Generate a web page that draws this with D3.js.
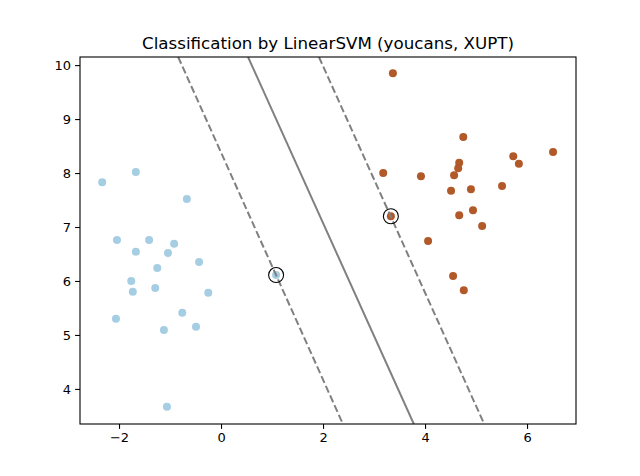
<!DOCTYPE html>
<html><head><meta charset="utf-8">
<script src="https://cdn.jsdelivr.net/npm/d3@7"></script>
<style>body{margin:0;background:#fff}svg{font-family:"DejaVu Sans",sans-serif}</style>
</head><body><svg width="640" height="476"></svg>
<script>
// class 0 (left cluster)
let xs0 = [-2.33,-1.67,-0.67,-2.04,-1.41,-1.67,-0.92,-1.04,-1.25,-1.76,-1.73,-0.43,-1.29,-0.25,-2.06,-0.76,-0.49,-1.12,-1.06,1.08];
let ys0 = [7.83,8.02,7.52,6.76,6.76,6.54,6.69,6.52,6.24,6.0,5.80,6.35,5.87,5.78,5.30,5.41,5.15,5.09,3.67,6.11];
// class 1 (right cluster)
let xs1 = [3.37,4.75,6.51,5.73,4.67,5.84,4.65,3.18,3.92,4.57,4.90,4.51,5.51,3.33,4.94,4.67,5.12,4.06,4.55,4.76];
let ys1 = [9.85,8.67,8.39,8.31,8.19,8.17,8.09,8.0,7.94,7.96,7.70,7.67,7.76,7.20,7.31,7.22,7.02,6.74,6.09,5.83];
// support vectors
let svX = [1.08, 3.33], svY = [6.11, 7.20];
// decision line and margins: x at top (y=10.15) and bottom (y=3.35)
let lineTopX = [-0.84, 0.53, 1.92];
let lineBotX = [2.39, 3.78, 5.16];
let lineDash = [true, false, true];
let yTop = 10.15, yBot = 3.35;
let xTicks = [-2, 0, 2, 4, 6], yTicks = [4, 5, 6, 7, 8, 9, 10];

let svg = d3.select('svg');
let pl = 80, pr = 576, pt = 57, pb = 424;
let x = d3.scaleLinear().domain([-2.765, 6.96]).range([pl, pr]);
let y = d3.scaleLinear().domain([yBot, yTop]).range([pb, pt]);

let g = svg.append('g');
g.append('defs').append('clipPath').attr('id', 'c').append('rect')
    .attr('x', pl).attr('y', pt).attr('width', pr - pl).attr('height', pb - pt);

let pts = xs0.map((v, i) => [v, ys0[i], '#a6cee3']).concat(xs1.map((v, i) => [v, ys1[i], '#b15928']));
g.selectAll('.pt').data(pts).enter().append('circle')
    .attr('cx', d => x(d[0])).attr('cy', d => y(d[1])).attr('r', 4).attr('fill', d => d[2]);

g.selectAll('.ln').data(lineTopX).enter().append('line')
    .attr('clip-path', 'url(#c)')
    .attr('x1', d => x(d)).attr('y1', y(yTop))
    .attr('x2', (d, i) => x(lineBotX[i])).attr('y2', y(yBot))
    .attr('stroke', 'grey').attr('stroke-width', 2)
    .attr('stroke-dasharray', (d, i) => lineDash[i] ? '7.4,3.2' : null);

g.selectAll('.sv').data(svX).enter().append('circle')
    .attr('cx', d => x(d)).attr('cy', (d, i) => y(svY[i])).attr('r', 7.5)
    .attr('fill', 'none').attr('stroke', 'black').attr('stroke-width', 1.1);

let ax = svg.append('g').attr('transform', `translate(0,${pb})`)
    .call(d3.axisBottom(x).tickValues(xTicks).tickSize(4.9).tickPadding(4).tickFormat(d3.format('d')));
let ay = svg.append('g').attr('transform', `translate(${pl},0)`)
    .call(d3.axisLeft(y).tickValues(yTicks).tickSize(4.9).tickPadding(4).tickFormat(d3.format('d')));
[ax, ay].forEach(a => { a.select('.domain').remove(); a.selectAll('line').attr('stroke-width', 1.1); a.selectAll('text').attr('font-size', 13).attr('fill', '#000').style('font-family', 'DejaVu Sans'); });

svg.append('rect').attr('x', pl).attr('y', pt).attr('width', pr - pl).attr('height', pb - pt)
    .attr('fill', 'none').attr('stroke', 'black').attr('stroke-width', 1.1);

svg.append('text').attr('x', (pl + pr) / 2).attr('y', pt - 8).attr('text-anchor', 'middle')
    .attr('font-size', 16.7).text('Classification by LinearSVM (youcans, XUPT)');
</script></body></html>
